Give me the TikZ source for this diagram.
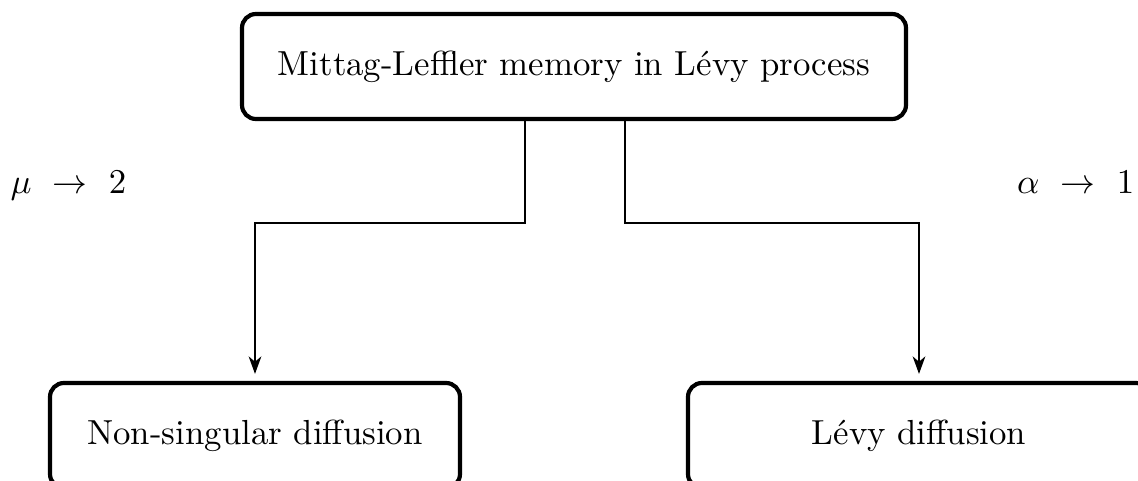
\documentclass[tikz,border=0pt]{standalone}
\usetikzlibrary{arrows.meta}
\begin{document}
\begin{tikzpicture}[x=0.28736pt,y=-0.28736pt,
  box/.style={draw,line width=1.2pt,rounded corners=4pt,rectangle,inner sep=0pt,align=center},
  conn/.style={line width=0.8pt,-{Stealth[length=5pt,width=3.6pt,inset=1.5pt]},shorten >=2pt},
  lbl/.style={inner sep=0pt}]
\clip (0,0) rectangle (1138,481);
\useasboundingbox (0,0) rectangle (1138,481);
\node[box,minimum width={664*0.28736pt},minimum height={105*0.28736pt}] (top) at (574,66.5) {Mittag-Leffler memory in Lévy process};
\node[box,minimum width={410*0.28736pt},minimum height={105*0.28736pt}] (nsd) at (255,435.5) {Non-singular diffusion};
\node[box,minimum width={462*0.28736pt},minimum height={105*0.28736pt}] (levy) at (919,435.5) {Lévy diffusion};
\coordinate (la) at (525,223);
\coordinate (ra) at (625,223);
\draw[conn] (top.south -| la) -- (la) -| (nsd.north);
\draw[conn] (top.south -| ra) -- (ra) -| (levy.north);
\node[lbl,anchor=base west] (mu) at (10,194) {$\mu \ \rightarrow\ 2$};
\node[lbl,anchor=base east] (al) at (1135,194) {$\alpha \ \rightarrow\ 1$};
\end{tikzpicture}
\end{document}
